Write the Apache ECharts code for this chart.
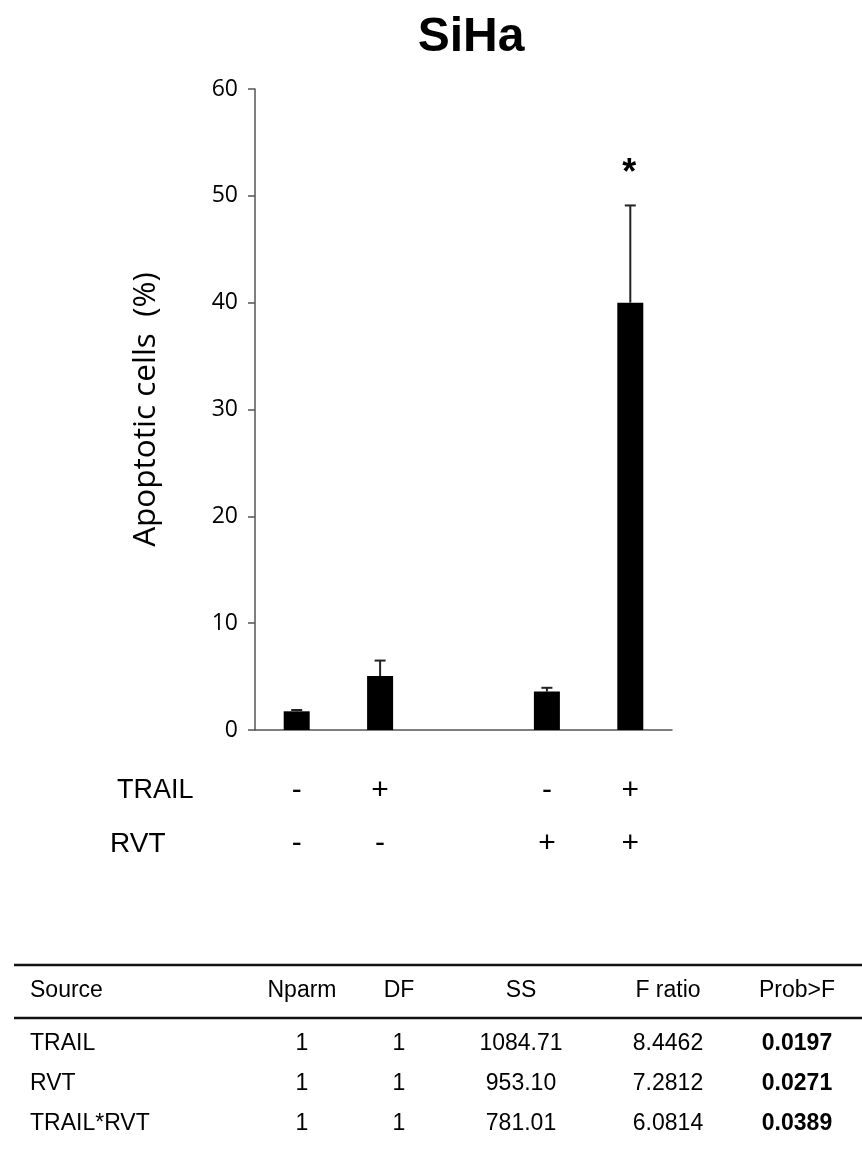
<!DOCTYPE html>
<html>
<head>
<meta charset="utf-8">
<script src="https://cdn.jsdelivr.net/npm/echarts@6/dist/echarts.min.js"></script>
<style>
html,body{margin:0;padding:0;background:#fff;}
#chart{width:862px;height:1154px;}
</style>
</head>
<body>
<div id="chart"></div>
<script>
// ---- data ----
var categories = ['c1', 'c2', 'gap', 'c3', 'c4'];
var trailSigns = ['-', '+', '', '-', '+'];
var rvtSigns   = ['-', '-', '', '+', '+'];
var meanValues = [1.75, 5.05, null, 3.6, 40.0];
var errValues  = [0.12, 1.45, null, 0.35, 9.1];
var sigMarks   = ['', '', '', '', '*'];
var yTicks = { min: 0, max: 60, interval: 10 };

var tableHeader = ['Source', 'Nparm', 'DF', 'SS', 'F ratio', 'Prob>F'];
var tableSource = ['TRAIL', 'RVT', 'TRAIL*RVT'];
var tableNparm  = ['1', '1', '1'];
var tableDF     = ['1', '1', '1'];
var tableSS     = ['1084.71', '953.10', '781.01'];
var tableF      = ['8.4462', '7.2812', '6.0814'];
var tableProb   = ['0.0197', '0.0271', '0.0389'];

// ---- chart ----
var chart = echarts.init(document.getElementById('chart'), null, {renderer: 'canvas'});

var errData = categories.map(function (c, i) {
  return meanValues[i] == null ? [i, null, null] : [i, meanValues[i], meanValues[i] + errValues[i]];
});

var graphics = [];
var tFont = '"Liberation Sans", Arial, sans-serif';
var oFont = '"Open Sans", sans-serif';
var colX = [30, 302, 399, 521, 668, 797];
function addText(x, y, txt, align, weight) {
  graphics.push({
    type: 'text', x: x, y: y,
    style: { text: txt, x: 0, y: 0, fill: '#000', font: (weight || 'normal') + ' 23px ' + tFont,
             textAlign: align, textVerticalAlign: 'middle' }
  });
}
tableHeader.forEach(function (h, j) { addText(colX[j], 991, h, j === 0 ? 'left' : 'center'); });
var rowY = [1044, 1084, 1124];
tableSource.forEach(function (s, i) {
  addText(colX[0], rowY[i], s, 'left');
  addText(colX[1], rowY[i], tableNparm[i], 'center');
  addText(colX[2], rowY[i], tableDF[i], 'center');
  addText(colX[3], rowY[i], tableSS[i], 'center');
  addText(colX[4], rowY[i], tableF[i], 'center');
  addText(colX[5], rowY[i], tableProb[i], 'center', 'bold');
});
graphics.push({ type: 'line', shape: { x1: 14, y1: 965, x2: 862, y2: 965 }, style: { stroke: '#111', lineWidth: 2.5 } });
graphics.push({ type: 'line', shape: { x1: 14, y1: 1018, x2: 862, y2: 1018 }, style: { stroke: '#111', lineWidth: 2.5 } });
// row headers of the design labels
graphics.push({ type: 'text', x: 117, y: 791, style: { text: 'TRAIL', fill: '#000', font: '27px ' + tFont, textAlign: 'left', textVerticalAlign: 'middle' } });
graphics.push({ type: 'text', x: 110, y: 844, style: { text: 'RVT', fill: '#000', font: '28px ' + tFont, textAlign: 'left', textVerticalAlign: 'middle' } });

var option = {
  backgroundColor: '#fff',
  animation: false,
  title: {
    text: 'SiHa', left: 466, top: 9, textAlign: 'center',
    textStyle: { fontFamily: tFont, fontWeight: 'bold', fontSize: 48, color: '#000' }
  },
  grid: { left: 255, right: 190, top: 89, bottom: 424 },
  xAxis: {
    type: 'category',
    data: categories,
    axisLine: { show: true, lineStyle: { color: '#555', width: 1.5 } },
    axisTick: { show: false },
    axisLabel: {
      interval: 0, margin: 34,
      formatter: function (v, i) { return trailSigns[i] + '\n' + rvtSigns[i]; },
      fontFamily: tFont, fontSize: 30, color: '#000', lineHeight: 53
    }
  },
  yAxis: {
    type: 'value',
    min: yTicks.min, max: yTicks.max, interval: yTicks.interval,
    name: 'Apoptotic cells  (%)',
    nameLocation: 'middle', nameGap: 93, nameRotate: 90,
    nameTextStyle: { fontFamily: oFont, fontSize: 31.5, color: '#000' },
    axisLine: { show: true, lineStyle: { color: '#555', width: 1.5 } },
    axisTick: { show: true, inside: false, length: 7, lineStyle: { color: '#555', width: 1.5 } },
    axisLabel: { margin: 17, fontFamily: oFont, fontSize: 23, color: '#000' },
    splitLine: { show: false }
  },
  series: [
    {
      type: 'bar', data: meanValues, barWidth: 26,
      itemStyle: { color: '#000' }, z: 2
    },
    {
      type: 'custom', z: 3,
      data: errData,
      renderItem: function (params, api) {
        if (api.value(1) == null || isNaN(api.value(1))) return null;
        var i = api.value(0);
        var p0 = api.coord([i, api.value(1)]);
        var p1 = api.coord([i, api.value(2)]);
        var children = [
          { type: 'line', shape: { x1: p0[0], y1: p0[1], x2: p1[0], y2: p1[1] }, style: { stroke: '#222', lineWidth: 2 } },
          { type: 'line', shape: { x1: p1[0] - 5.5, y1: p1[1], x2: p1[0] + 5.5, y2: p1[1] }, style: { stroke: '#222', lineWidth: 2 } }
        ];
        var m = sigMarks[params.dataIndex];
        if (m) {
          children.push({ type: 'text', x: p1[0] - 1, y: p1[1] - 31,
            style: { text: m, fill: '#000', font: 'bold 36px ' + tFont, textAlign: 'center', textVerticalAlign: 'middle' } });
        }
        return { type: 'group', children: children };
      }
    }
  ],
  graphic: graphics
};
chart.setOption(option);
</script>
</body>
</html>
